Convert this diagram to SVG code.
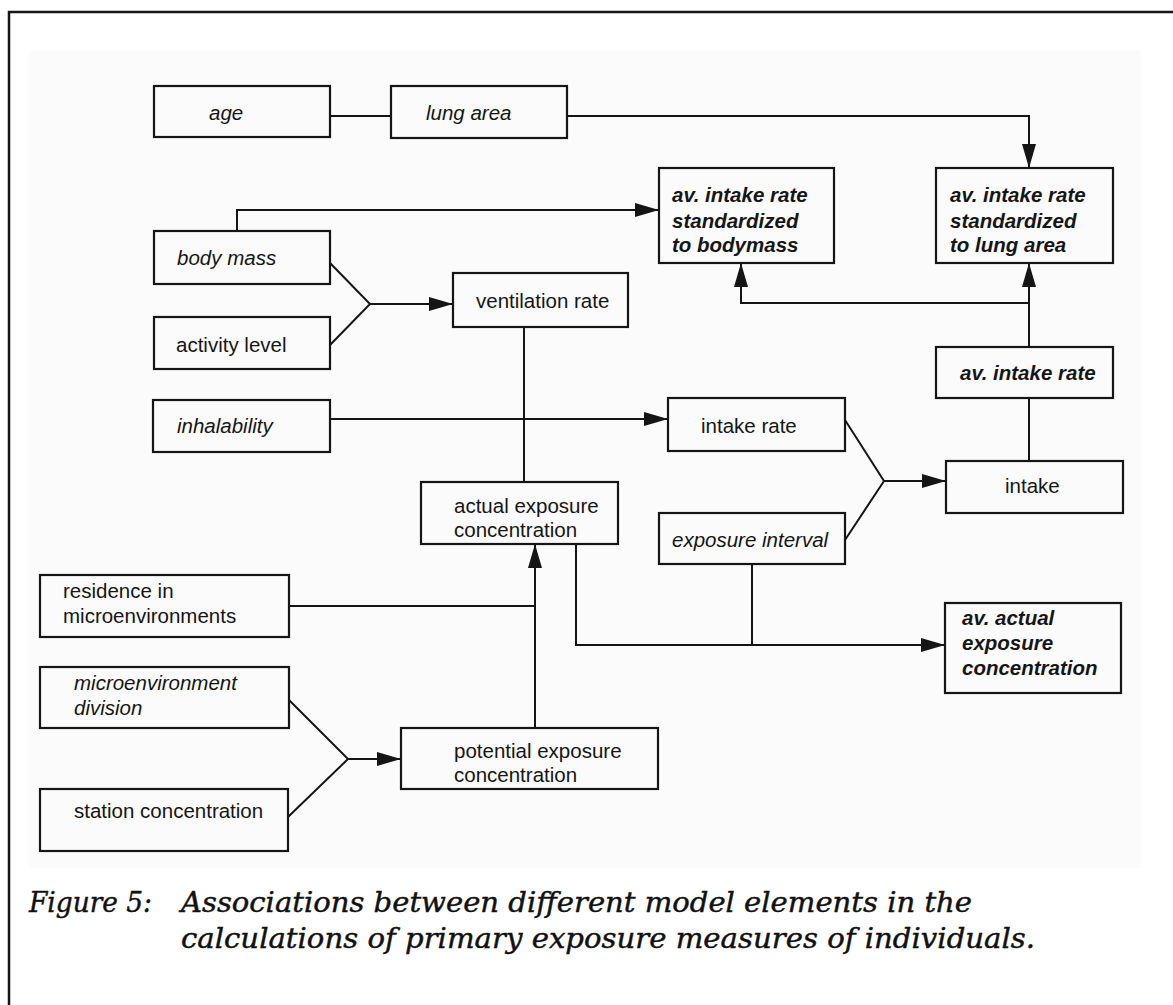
<svg xmlns="http://www.w3.org/2000/svg" width="1173" height="1005" viewBox="0 0 1173 1005">
<style>
.box{fill:none;stroke:#151515;stroke-width:2.2}
.c{fill:none;stroke:#151515;stroke-width:2}
.t{font-family:"Liberation Sans",Arial,sans-serif;font-size:20.5px;fill:#151515}
.i{font-style:italic}
.bi{font-style:italic;font-weight:bold}
.cap{font-family:"DejaVu Serif","Liberation Serif",serif;font-style:italic;font-size:28px;fill:#111;stroke:#111;stroke-width:0.45}
</style>
<defs>
<marker id="arr" markerUnits="userSpaceOnUse" markerWidth="24" markerHeight="14" refX="24" refY="7" orient="auto">
<path d="M0,0 L24,7 L0,14 z" fill="#151515"/>
</marker>
</defs>
<rect x="0" y="0" width="1173" height="1005" fill="#ffffff"/>
<rect x="29" y="50" width="1112" height="818" fill="#fafbfa"/>
<path d="M9,1005 V12 H1173" fill="none" stroke="#151515" stroke-width="2.5"/>

<g id="connectors">
<path class="c" d="M330,116 H391"/>
<path class="c" d="M567,116 H1029 V168" marker-end="url(#arr)"/>
<path class="c" d="M237,231 V210 H659" marker-end="url(#arr)"/>
<path class="c" d="M330,263 L370,304 L330,345"/>
<path class="c" d="M370,304 H453" marker-end="url(#arr)"/>
<path class="c" d="M524,327 V482"/>
<path class="c" d="M330,419 H668" marker-end="url(#arr)"/>
<path class="c" d="M845,420 L884,481 L845,540"/>
<path class="c" d="M884,481 H946" marker-end="url(#arr)"/>
<path class="c" d="M1029,461 V398"/>
<path class="c" d="M1029,347 V263" marker-end="url(#arr)"/>
<path class="c" d="M1029,303 H741 V263" marker-end="url(#arr)"/>
<path class="c" d="M535,728 V544" marker-end="url(#arr)"/>
<path class="c" d="M289,606 H535"/>
<path class="c" d="M576,544 V645 H945" marker-end="url(#arr)"/>
<path class="c" d="M752,564 V645"/>
<path class="c" d="M289,700 L348,759 L288,817"/>
<path class="c" d="M348,759 H401" marker-end="url(#arr)"/>
</g>

<g id="age"><rect class="box" x="154" y="86" width="176" height="51"/><text class="t i" x="209" y="120">age</text></g>
<g id="lung-area"><rect class="box" x="391" y="86" width="176" height="52"/><text class="t i" x="426" y="120">lung area</text></g>
<g id="body-mass"><rect class="box" x="154" y="231" width="176" height="53"/><text class="t i" x="177" y="265">body mass</text></g>
<g id="activity-level"><rect class="box" x="154" y="317" width="176" height="52"/><text class="t" x="176" y="352">activity level</text></g>
<g id="inhalability"><rect class="box" x="153" y="400" width="177" height="52"/><text class="t i" x="177" y="433">inhalability</text></g>
<g id="ventilation-rate"><rect class="box" x="453" y="273" width="175" height="54"/><text class="t" x="476" y="308">ventilation rate</text></g>
<g id="av-std-bodymass"><rect class="box" x="659" y="168" width="175" height="95"/><text class="t bi" x="672" y="202">av. intake rate</text><text class="t bi" x="672" y="228">standardized</text><text class="t bi" x="672" y="252">to bodymass</text></g>
<g id="av-std-lung"><rect class="box" x="936" y="168" width="177" height="95"/><text class="t bi" x="950" y="202">av. intake rate</text><text class="t bi" x="950" y="228">standardized</text><text class="t bi" x="950" y="252">to lung area</text></g>
<g id="av-intake-rate"><rect class="box" x="936" y="347" width="177" height="51"/><text class="t bi" x="960" y="380">av. intake rate</text></g>
<g id="intake-rate"><rect class="box" x="668" y="398" width="177" height="53"/><text class="t" x="701" y="433">intake rate</text></g>
<g id="intake"><rect class="box" x="946" y="461" width="177" height="52"/><text class="t" x="1005" y="493">intake</text></g>
<g id="actual-exposure"><rect class="box" x="421" y="482" width="197" height="62"/><text class="t" x="454" y="513">actual exposure</text><text class="t" x="454" y="537">concentration</text></g>
<g id="exposure-interval"><rect class="box" x="659" y="513" width="186" height="51"/><text class="t i" x="672" y="547">exposure interval</text></g>
<g id="av-actual-exposure"><rect class="box" x="945" y="603" width="176" height="90"/><text class="t bi" x="962" y="625">av. actual</text><text class="t bi" x="962" y="650">exposure</text><text class="t bi" x="962" y="675">concentration</text></g>
<g id="residence"><rect class="box" x="40" y="575" width="249" height="62"/><text class="t" x="63" y="598">residence in</text><text class="t" x="63" y="623">microenvironments</text></g>
<g id="micro-division"><rect class="box" x="40" y="667" width="249" height="61"/><text class="t i" x="74" y="690">microenvironment</text><text class="t i" x="74" y="715">division</text></g>
<g id="potential-exposure"><rect class="box" x="401" y="728" width="257" height="61"/><text class="t" x="454" y="758">potential exposure</text><text class="t" x="454" y="782">concentration</text></g>
<g id="station-concentration"><rect class="box" x="40" y="789" width="248" height="62"/><text class="t" x="74" y="818">station concentration</text></g>

<g id="caption">
<text class="cap" x="29" y="912" textLength="123" lengthAdjust="spacingAndGlyphs">Figure 5:</text>
<text class="cap" x="181" y="912" textLength="791" lengthAdjust="spacingAndGlyphs">Associations between different model elements in the</text>
<text class="cap" x="181" y="948" textLength="854" lengthAdjust="spacingAndGlyphs">calculations of primary exposure measures of individuals.</text>
</g>
</svg>
